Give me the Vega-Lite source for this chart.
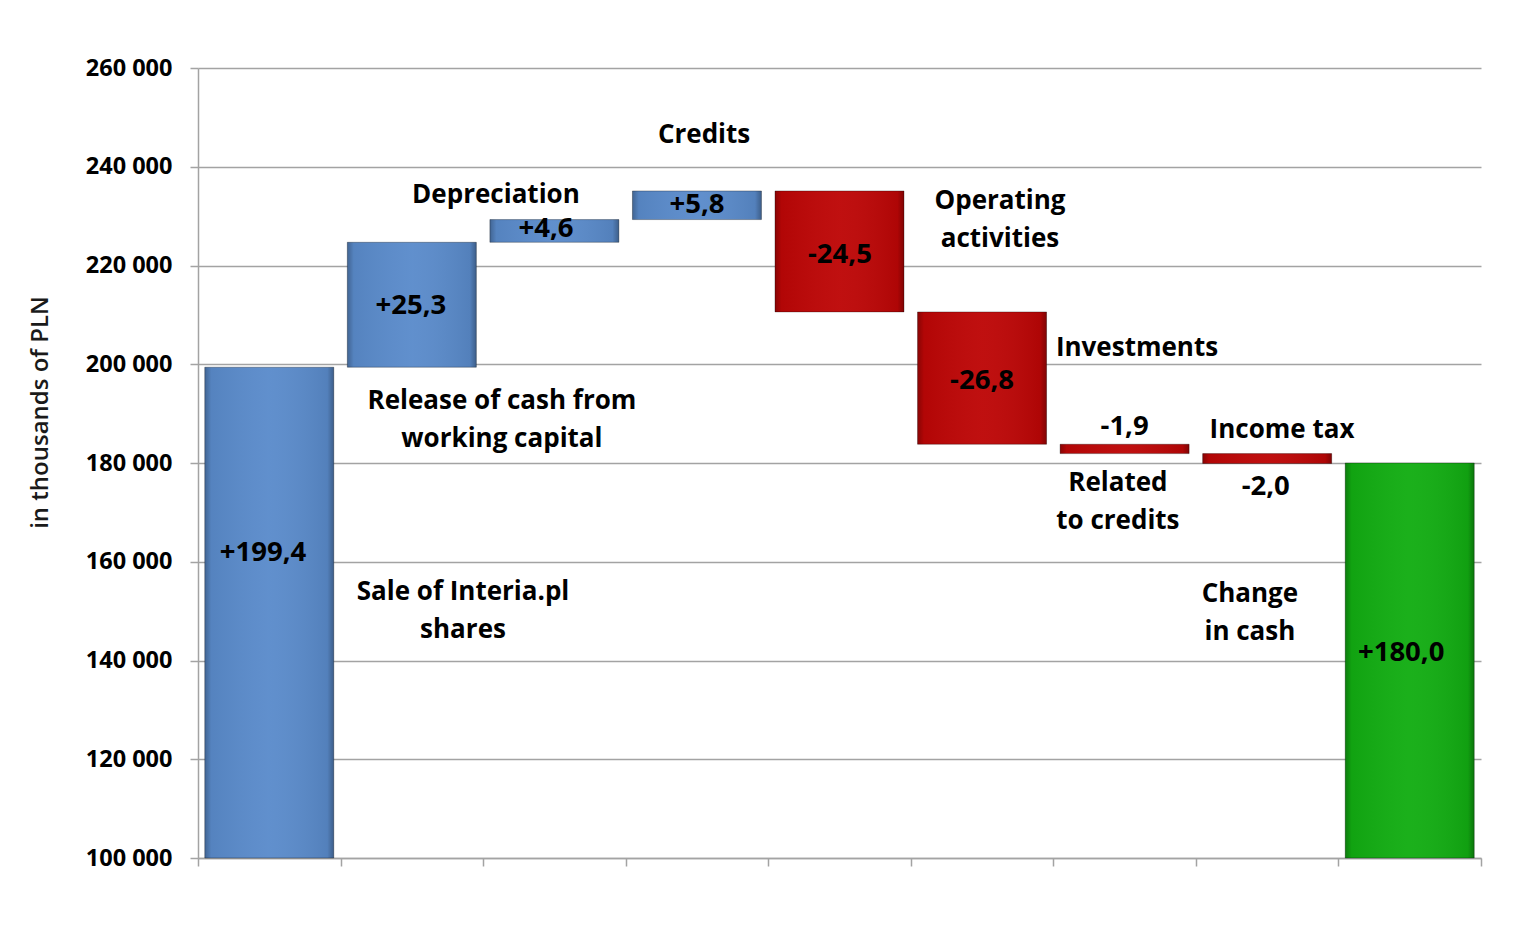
{
  "$schema": "https://vega.github.io/schema/vega-lite/v6.json",
  "autosize": {"type": "none"},
  "width": 1283,
  "height": 790,
  "padding": {"left": 198, "top": 68, "right": 48, "bottom": 89},
  "background": "#ffffff",
  "config": {
    "view": {"stroke": null},
    "locale": {"number": {"decimal": ",", "thousands": " ", "grouping": [3], "currency": ["", ""]}},
    "text": {"font": "Open Sans", "fontSize": 26, "fontWeight": "bold", "color": "#000000", "lineHeight": 38}
  },
  "datasets": {
    "flows": [
      {"step": "Sale of Interia.pl shares", "kind": "inflow", "start": 100000, "end": 199400},
      {"step": "Release of cash from working capital", "kind": "inflow", "start": 199400, "end": 224700},
      {"step": "Depreciation", "kind": "inflow", "start": 224700, "end": 229300},
      {"step": "Credits", "kind": "inflow", "start": 229300, "end": 235100},
      {"step": "Operating activities", "kind": "outflow", "start": 235100, "end": 210600},
      {"step": "Investments", "kind": "outflow", "start": 210600, "end": 183800},
      {"step": "Related to credits", "kind": "outflow", "start": 183800, "end": 181900},
      {"step": "Income tax", "kind": "outflow", "start": 181900, "end": 179900},
      {"step": "Change in cash", "kind": "total", "start": 100000, "end": 180000}
    ],
    "notes": [
      {"role": "value", "text": "+199,4", "pos": 0.456, "at": 161800},
      {"role": "value", "text": "+25,3", "pos": 1.494, "at": 211800},
      {"role": "value", "text": "+4,6", "pos": 2.441, "at": 227400},
      {"role": "value", "text": "+5,8", "pos": 3.5, "at": 232250},
      {"role": "value", "text": "-24,5", "pos": 4.503, "at": 222130},
      {"role": "value", "text": "-26,8", "pos": 5.5, "at": 196600},
      {"role": "value", "text": "-1,9", "pos": 6.5, "at": 187300},
      {"role": "value", "text": "-2,0", "pos": 7.49, "at": 175140},
      {"role": "value", "text": "+180,0", "pos": 8.44, "at": 141520},
      {"role": "name", "text": ["Sale of Interia.pl", "shares"], "pos": 1.859, "at": 153870},
      {"role": "name", "text": ["Release of cash from", "working capital"], "pos": 2.132, "at": 192560},
      {"role": "name", "text": "Depreciation", "pos": 2.09, "at": 234280},
      {"role": "name", "text": "Credits", "pos": 3.55, "at": 246430},
      {"role": "name", "text": ["Operating", "activities"], "pos": 5.626, "at": 233060},
      {"role": "name", "text": "Investments", "pos": 6.587, "at": 203300},
      {"role": "name", "text": ["Related", "to credits"], "pos": 6.453, "at": 175950},
      {"role": "name", "text": "Income tax", "pos": 7.604, "at": 186680},
      {"role": "name", "text": ["Change", "in cash"], "pos": 7.379, "at": 153470}
    ]
  },
  "layer": [
    {
      "data": {"name": "flows"},
      "mark": {"type": "bar"},
      "encoding": {
        "x": {"field": "step", "type": "nominal", "sort": null, "axis": null,
              "scale": {"paddingInner": 0.095, "paddingOuter": 0.0475}},
        "y": {"field": "start", "type": "quantitative",
              "scale": {"domain": [100000, 260000], "nice": false, "zero": false},
              "axis": {
                "title": "in thousands of PLN",
                "values": [100000, 120000, 140000, 160000, 180000, 200000, 220000, 240000, 260000],
                "format": ",d",
                "grid": true, "gridColor": "#a3a3a3", "gridWidth": 1.5,
                "domainColor": "#a3a3a3", "domainWidth": 1.5,
                "tickColor": "#a3a3a3", "tickWidth": 1.5, "tickSize": 8,
                "labelFont": "Open Sans", "labelFontSize": 23.5, "labelFontWeight": "bold", "labelColor": "#000000",
                "labelPadding": 18,
                "titleFont": "Open Sans", "titleFontSize": 24, "titleFontWeight": 600, "titleColor": "#1a1a1a",
                "titleX": -158, "titleY": 344, "titleBaseline": "middle", "titleAlign": "center", "titleAngle": -90
              }},
        "y2": {"field": "end"},
        "color": {"field": "kind", "type": "nominal", "legend": null,
                  "scale": {"domain": ["inflow", "outflow", "total"], "range": ["#5a8bcb", "#bd0606", "#12ad12"]}}
      }
    },
    {
      "data": {"name": "flows"},
      "mark": {"type": "bar",
               "fill": {"gradient": "linear", "x1": 0, "x2": 1, "y1": 0, "y2": 0,
                        "stops": [
                          {"offset": 0, "color": "rgba(0,0,0,0.28)"},
                          {"offset": 0.05, "color": "rgba(0,0,0,0.06)"},
                          {"offset": 0.5, "color": "rgba(255,255,255,0.04)"},
                          {"offset": 0.95, "color": "rgba(0,0,0,0.08)"},
                          {"offset": 1, "color": "rgba(0,0,0,0.32)"}
                        ]},
               "stroke": "#000000", "strokeOpacity": 0.3, "strokeWidth": 1},
      "encoding": {
        "x": {"field": "step", "type": "nominal", "sort": null, "axis": null,
              "scale": {"paddingInner": 0.095, "paddingOuter": 0.0475}},
        "y": {"field": "start", "type": "quantitative"},
        "y2": {"field": "end"}
      }
    },
    {
      "data": {"name": "notes"},
      "transform": [{"filter": "datum.role === 'name'"}],
      "mark": {"type": "text", "align": "center", "baseline": "middle", "fontSize": 26},
      "encoding": {
        "x": {"field": "pos", "type": "quantitative",
              "scale": {"domain": [0, 9], "nice": false, "zero": false},
              "axis": {"values": [0, 1, 2, 3, 4, 5, 6, 7, 8, 9], "labels": false, "title": null, "grid": false,
                       "domainColor": "#a3a3a3", "domainWidth": 1.5,
                       "tickColor": "#a3a3a3", "tickWidth": 1.5, "tickSize": 8}},
        "y": {"field": "at", "type": "quantitative"},
        "text": {"field": "text"}
      }
    },
    {
      "data": {"name": "notes"},
      "transform": [{"filter": "datum.role === 'value'"}],
      "mark": {"type": "text", "align": "center", "baseline": "middle", "fontSize": 27.5},
      "encoding": {
        "x": {"field": "pos", "type": "quantitative",
              "scale": {"domain": [0, 9], "nice": false, "zero": false},
              "axis": null},
        "y": {"field": "at", "type": "quantitative"},
        "text": {"field": "text"}
      }
    }
  ],
  "resolve": {"scale": {"x": "independent"}, "axis": {"x": "independent"}}
}
